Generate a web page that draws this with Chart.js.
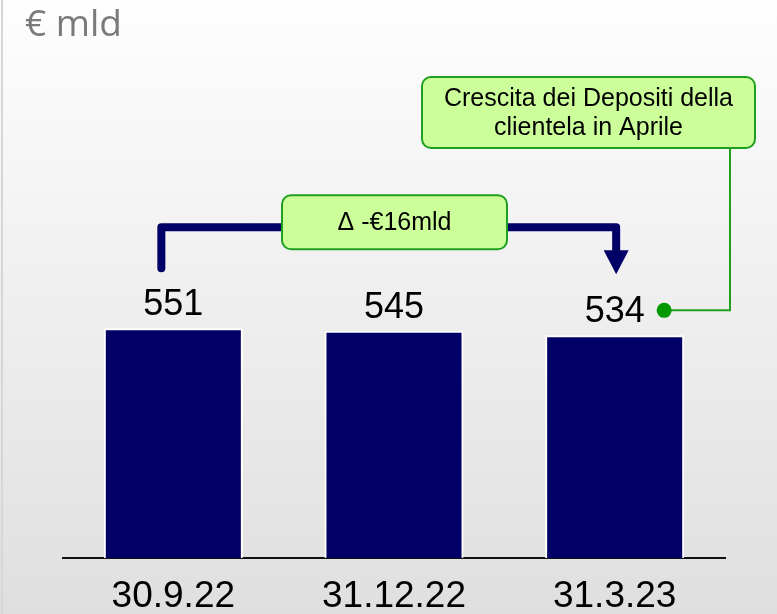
<!DOCTYPE html>
<html lang="it">
<head>
<meta charset="utf-8">
<title>Depositi clientela</title>
<script src="https://cdn.jsdelivr.net/npm/chart.js@4/dist/chart.umd.min.js"></script>
<style>
  html, body { margin: 0; padding: 0; }
  body { width: 777px; height: 614px; overflow: hidden; background: linear-gradient(#fefefe, #dfdfdf); }
  #contenitore { position: relative; width: 777px; height: 614px; }
  #bordo { position: absolute; left: 1px; top: 0; width: 2px; height: 614px; background: #d6d6d6; }
  canvas { position: absolute; left: 0; top: 0; }
</style>
</head>
<body>
<div id="contenitore">
  <div id="bordo"></div>
  <canvas id="grafico-depositi" width="777" height="614"></canvas>
</div>
<script>
// Dati
const date = ["30.9.22", "31.12.22", "31.3.23"];
const depositi = [551, 545, 534];
const unita = "€ mld";
const notaDelta = "Δ -€16mld";
const notaAprile = ["Crescita dei Depositi della", "clientela in Aprile"];

// Colori e font
const blu = "#000066";
const verde = "#1f9f1f";
const verdeChiaro = "#ccff99";
const font = "'Liberation Sans', Arial, sans-serif";

// Box verde arrotondato con testo
function boxNota(ctx, x, y, w, h, righe) {
  ctx.fillStyle = verdeChiaro;
  ctx.strokeStyle = verde;
  ctx.lineWidth = 2;
  ctx.beginPath();
  ctx.roundRect(x, y, w, h, 9);
  ctx.fill();
  ctx.stroke();
  ctx.fillStyle = "#000";
  ctx.font = "25px " + font;
  ctx.textAlign = "center";
  ctx.textBaseline = "middle";
  const passo = 29;
  const inizio = y + h / 2 - (righe.length - 1) * passo / 2;
  righe.forEach((r, i) => ctx.fillText(r, x + w / 2, inizio + i * passo + 1));
}

// Plugin per etichette, frecce e note
const note = {
  id: "note",
  afterDatasetsDraw(chart) {
    const ctx = chart.ctx;
    const barre = chart.getDatasetMeta(0).data;
    ctx.save();

    // unità di misura
    ctx.fillStyle = "#7a7a7a";
    ctx.font = "37px 'Open Sans', sans-serif";
    ctx.textAlign = "left";
    ctx.textBaseline = "alphabetic";
    ctx.fillText(unita, 25, 36);

    // valori sopra le barre
    ctx.fillStyle = "#000";
    ctx.font = "36px " + font;
    ctx.textAlign = "center";
    barre.forEach((b, i) => ctx.fillText(depositi[i], b.x, b.y - 13));

    // freccia tra prima e ultima barra
    const xa = barre[0].x - 12;
    const xb = barre[2].x + 1.5;
    const yLinea = barre[0].y - 101;
    const yPunta = barre[2].y - 61;
    ctx.strokeStyle = blu;
    ctx.lineWidth = 8;
    ctx.lineJoin = "round";
    ctx.lineCap = "round";
    ctx.beginPath();
    ctx.moveTo(xa, barre[0].y - 60);
    ctx.lineTo(xa, yLinea);
    ctx.lineTo(xb, yLinea);
    ctx.lineTo(xb, yPunta - 22);
    ctx.stroke();
    ctx.fillStyle = blu;
    ctx.beginPath();
    ctx.moveTo(xb - 12.5, yPunta - 24);
    ctx.lineTo(xb + 12.5, yPunta - 24);
    ctx.lineTo(xb, yPunta);
    ctx.closePath();
    ctx.fill();

    // box delta
    boxNota(ctx, barre[1].x - 112, yLinea - 32, 225, 54, [notaDelta]);

    // box Aprile con connettore
    const xConn = 730;
    const yPunto = barre[2].y - 25;
    const xPunto = barre[2].x + 49.5;
    ctx.strokeStyle = verde;
    ctx.lineWidth = 2;
    ctx.lineCap = "butt";
    ctx.lineJoin = "miter";
    ctx.beginPath();
    ctx.moveTo(xConn, 148);
    ctx.lineTo(xConn, yPunto);
    ctx.lineTo(xPunto, yPunto);
    ctx.stroke();
    ctx.fillStyle = "#009900";
    ctx.beginPath();
    ctx.arc(xPunto, yPunto, 7.5, 0, Math.PI * 2);
    ctx.fill();
    boxNota(ctx, 422, 77, 333, 71, notaAprile);

    ctx.restore();
  }
};

// Grafico
const configGrafico = {
  type: "bar",
  data: {
    labels: date,
    datasets: [{
      data: depositi,
      backgroundColor: blu,
      borderColor: "#ffffff",
      borderWidth: 2,
      barPercentage: 0.63,
      categoryPercentage: 1
    }]
  },
  options: {
    responsive: false,
    animation: false,
    layout: { padding: { left: 63, right: 52, top: 141, bottom: -21 } },
    plugins: { legend: { display: false }, tooltip: { enabled: false } },
    scales: {
      x: {
        grid: { display: false, drawTicks: false },
        border: { display: true, color: "#111111", width: 2 },
        ticks: { color: "#000", padding: 20, font: { family: font, size: 37, lineHeight: 1 } }
      },
      y: { display: false, min: 0, max: 1000 }
    }
  },
  plugins: [note]
};

new Chart(document.getElementById("grafico-depositi").getContext("2d"), configGrafico);
</script>
</body>
</html>
